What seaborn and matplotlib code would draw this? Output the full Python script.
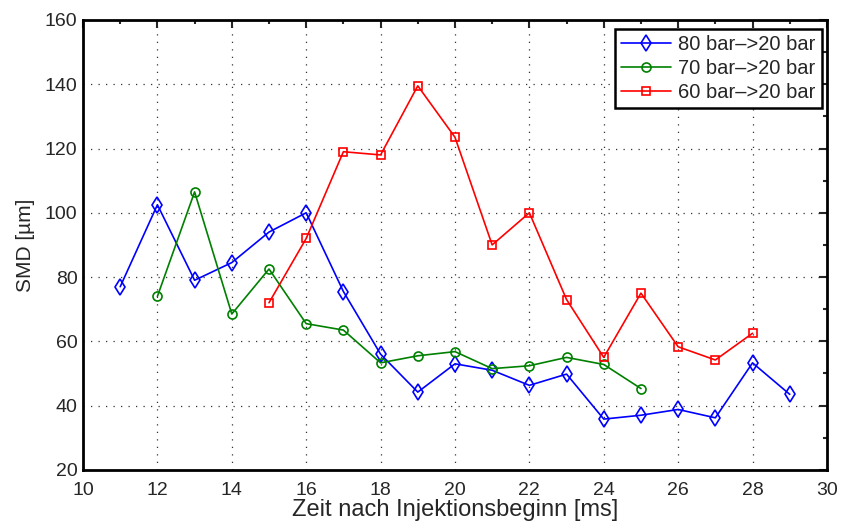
import matplotlib
matplotlib.use("Agg")
import matplotlib.pyplot as plt
from matplotlib.ticker import MultipleLocator
import pandas as pd
import seaborn as sns

# data
t_80 = [11, 12, 13, 14, 15, 16, 17, 18, 19, 20, 21, 22, 23, 24, 25, 26, 27, 28, 29]
smd_80 = [77, 102.5, 79, 84.5, 94, 100, 75.5, 56, 44.2, 53, 51, 46.3, 49.8,
          35.8, 37, 38.8, 36.2, 53.3, 43.5]
t_70 = [12, 13, 14, 15, 16, 17, 18, 19, 20, 21, 22, 23, 24, 25]
smd_70 = [74, 106.5, 68.5, 82.5, 65.5, 63.5, 53.3, 55.5, 56.8, 51.5, 52.4, 55,
          52.8, 45.3]
t_60 = [15, 16, 17, 18, 19, 20, 21, 22, 23, 24, 25, 26, 27, 28]
smd_60 = [72, 92, 119, 118, 139.5, 123.5, 90, 100, 73, 55, 75, 58.3, 54.2, 62.5]

labels = ["80 bar\u2013>20 bar", "70 bar\u2013>20 bar", "60 bar\u2013>20 bar"]
colours = ["#0000ff", "#008000", "#ff0000"]
markers = ["d", "o", "s"]
sizes = [8.5, 6.5, 5.2]

sns.set_style("white")
plt.rcParams["font.family"] = ["Liberation Sans", "DejaVu Sans"]

fig = plt.figure(figsize=(8.42, 5.25), dpi=100)
ax = fig.add_axes([0.0986, 0.105, 0.8835, 0.857])

series = [(t_80, smd_80), (t_70, smd_70), (t_60, smd_60)]
for (t, v), lab, c, m, ms in zip(series, labels, colours, markers, sizes):
    df = pd.DataFrame({"t": t, "smd": v})
    sns.lineplot(data=df, x="t", y="smd", ax=ax, color=c, lw=1.2, marker=m,
                 markersize=ms, markerfacecolor="none", markeredgecolor=c,
                 markeredgewidth=1.2, label=lab)

ax.set_xlim(10, 30)
ax.set_ylim(20, 160)
ax.xaxis.set_major_locator(MultipleLocator(2))
ax.xaxis.set_minor_locator(MultipleLocator(1))
ax.yaxis.set_major_locator(MultipleLocator(20))
ax.yaxis.set_minor_locator(MultipleLocator(10))
ax.tick_params(which="both", direction="in", top=True, right=True,
               labelsize=14, width=1.5)
ax.tick_params(which="major", length=6)
ax.tick_params(which="minor", length=3)
ax.tick_params(axis="x", which="major", pad=9)
ax.tick_params(axis="y", which="major", pad=4)
ax.grid(True, which="major", color="#333333", ls=(0, (1, 5)), lw=0.9)
for s in ax.spines.values():
    s.set_linewidth(2)
    s.set_color("black")

ax.set_xlabel("Zeit nach Injektionsbeginn [ms]", fontsize=17, labelpad=0)
ax.set_ylabel("SMD [\u00b5m]", fontsize=15, labelpad=7)

leg = ax.legend(loc="upper right", bbox_to_anchor=(0.993, 0.98),
                borderaxespad=0, fontsize=14.5, frameon=True, fancybox=False,
                handlelength=2.5, labelspacing=0.25, borderpad=0.3,
                handletextpad=0.35)
leg.get_frame().set_edgecolor("black")
leg.get_frame().set_linewidth(1.8)
leg.get_frame().set_alpha(1)

fig.savefig("out.png", dpi=100)
